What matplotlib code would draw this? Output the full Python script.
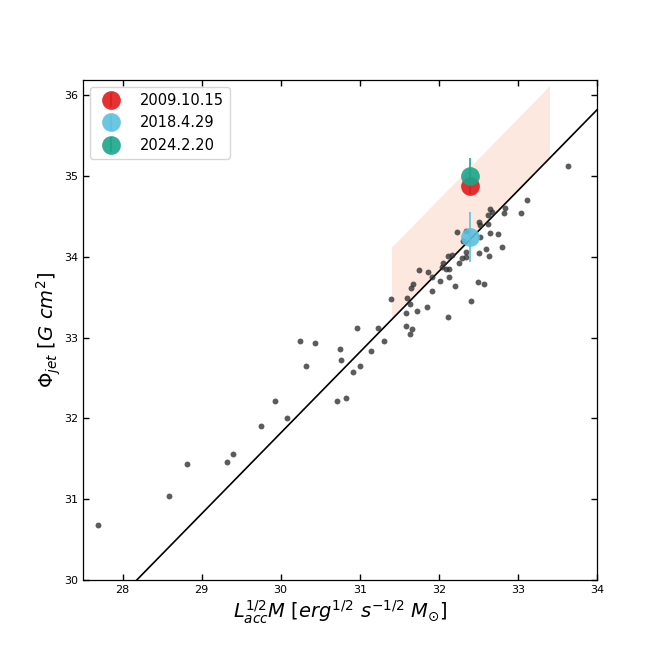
import matplotlib
matplotlib.use("Agg")
import matplotlib.pyplot as plt
import numpy as np

# sample points (log L_acc^1/2 M, log Phi_jet)
x_pts = [27.69, 28.59, 28.82, 29.32, 29.40, 29.75, 29.93, 30.08, 30.24, 30.32,
         30.43, 30.71, 30.75, 30.76, 30.83, 30.91, 30.96, 31.00, 31.14, 31.23,
         31.31,
         31.39, 31.58, 31.60, 31.64, 31.65, 31.67, 31.72, 31.75, 31.86, 31.85,
         31.91, 31.92, 32.01, 32.04, 32.05, 32.09, 32.13, 32.13, 32.12, 32.17,
         32.20, 32.12, 31.58, 31.66, 31.63,
         32.23, 32.34, 32.31, 32.25, 32.29, 32.35, 32.35, 32.41, 32.49, 32.57,
         32.51, 32.52, 32.62, 32.65, 32.75, 32.52, 32.80, 32.60, 32.51, 32.63,
         32.62, 32.65, 32.67, 32.84, 32.82, 33.04, 33.11, 33.63]
y_pts = [30.68, 31.04, 31.43, 31.46, 31.56, 31.91, 32.21, 32.01, 32.96, 32.65,
         32.93, 32.22, 32.86, 32.72, 32.25, 32.57, 33.12, 32.65, 32.84, 33.12,
         32.96,
         33.48, 33.31, 33.49, 33.42, 33.62, 33.67, 33.33, 33.84, 33.81, 33.38,
         33.75, 33.58, 33.70, 33.88, 33.93, 33.85, 33.85, 33.75, 34.01, 34.02,
         33.64, 33.26, 33.15, 33.11, 33.04,
         34.31, 34.32, 34.20, 33.93, 33.99, 34.06, 34.00, 33.46, 33.69, 33.67,
         34.43, 34.40, 34.41, 34.30, 34.28, 34.25, 34.12, 34.10, 34.05, 34.01,
         34.52, 34.59, 34.56, 34.60, 34.54, 34.54, 34.70, 35.12]

# fitted relation y = slope * x + intercept
fit_slope = 1.0
fit_intercept = 1.82
band_x = [31.4, 33.4]
band_offset = 0.9

# epochs
epoch_labels = ["2009.10.15", "2018.4.29", "2024.2.20"]
epoch_x = [32.40, 32.40, 32.40]
epoch_y = [34.88, 34.25, 35.00]
epoch_yerr = [0.10, 0.31, 0.22]
epoch_colors = ["#e31a1c", "#5bc0de", "#1aa58a"]

fig = plt.figure(figsize=(6.64, 6.64), dpi=100)
ax = fig.add_axes([0.125, 0.1265, 0.774, 0.753])

xb = np.linspace(band_x[0], band_x[1], 50)
ax.fill_between(xb, fit_slope * xb + fit_intercept,
                fit_slope * xb + fit_intercept + band_offset,
                color="#fde8e0", linewidth=0, zorder=1)

xl = np.linspace(27.5, 34.0, 100)
ax.plot(xl, fit_slope * xl + fit_intercept, color="black", lw=1.2, zorder=2)

ax.scatter(x_pts, y_pts, s=18, color="#333333", alpha=0.8, linewidths=0, zorder=3)

for lab, ex, ey, ee, c in zip(epoch_labels, epoch_x, epoch_y, epoch_yerr, epoch_colors):
    ax.errorbar(ex, ey, yerr=ee, fmt="o", ms=13.5, color=c, mec="none",
                ecolor=c, elinewidth=1.3, alpha=0.9, label=lab, zorder=4)

ax.set_xlim(27.5, 34.0)
ax.set_ylim(30.0, 36.19)
ax.set_xticks([28, 29, 30, 31, 32, 33, 34])
ax.set_yticks([30, 31, 32, 33, 34, 35, 36])
ax.tick_params(direction="in", top=True, right=True, length=4.5, width=1,
               labelsize=8)
for sp in ax.spines.values():
    sp.set_linewidth(0.9)

ax.set_xlabel(r"$L_{acc}^{1/2}M\ [erg^{1/2}\ s^{-1/2}\ M_{\odot}]$", fontsize=14,
              labelpad=2.5)
ax.set_ylabel(r"$\Phi_{jet}\ [G\ cm^2]$", fontsize=14, labelpad=0.5)

ax.legend(loc="upper left", fontsize=10.5, borderaxespad=0.5, handletextpad=1.0)

fig.savefig("out.png", dpi=100)
